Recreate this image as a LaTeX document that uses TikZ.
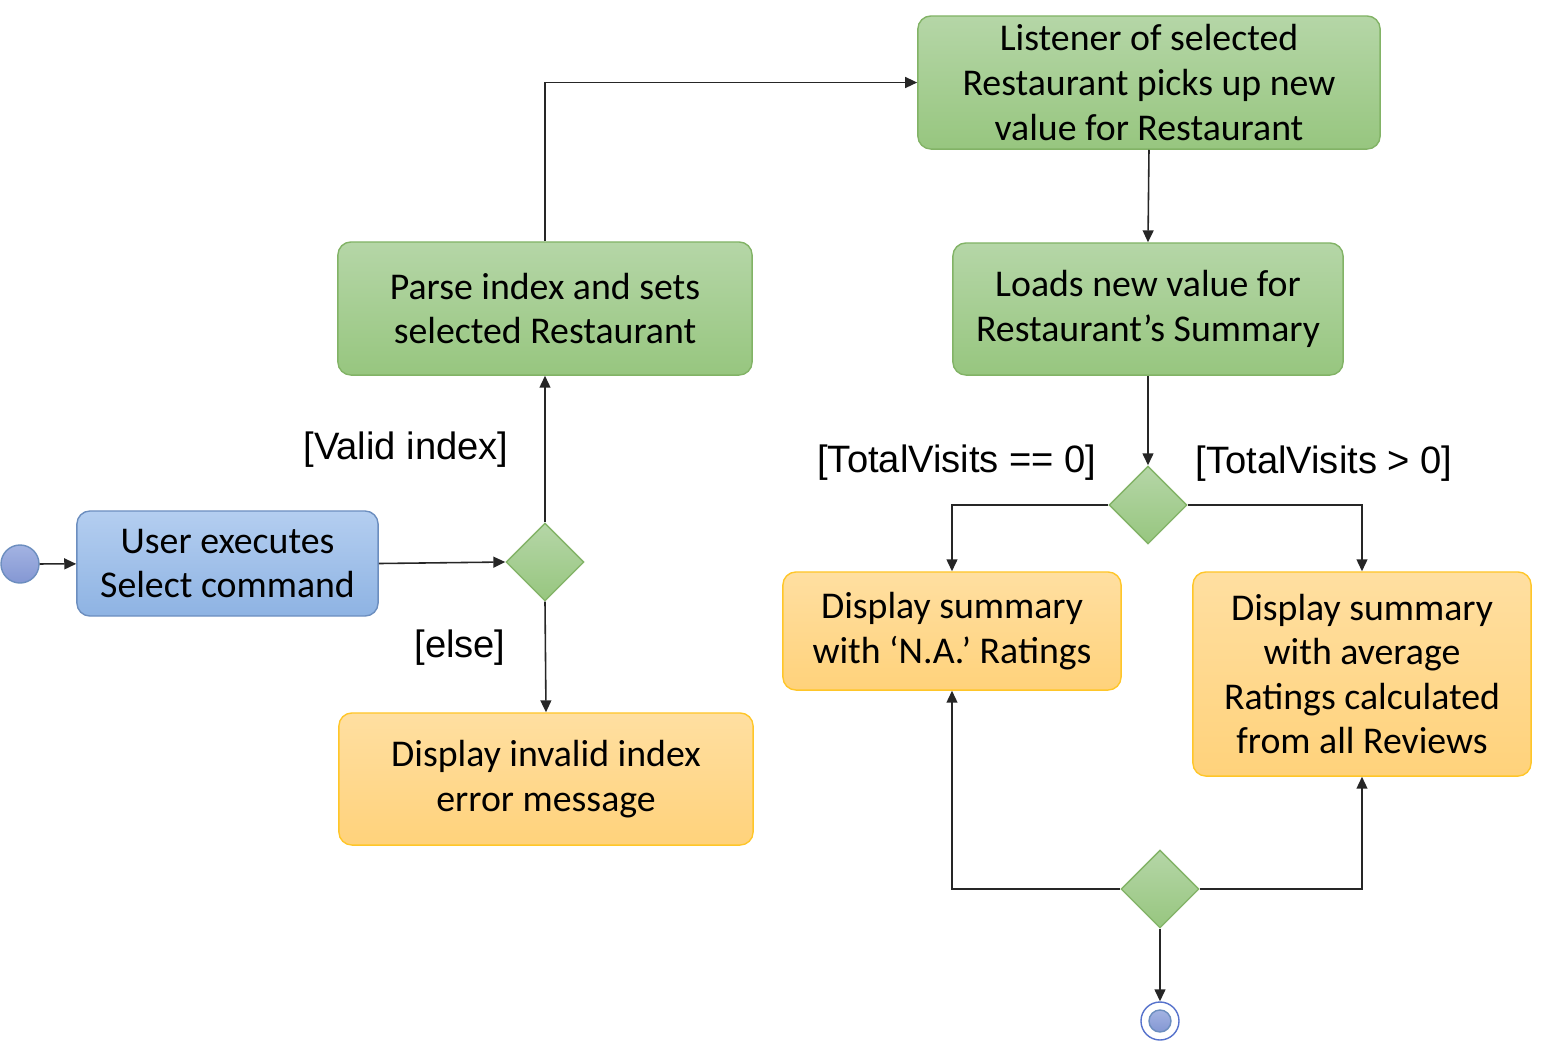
\documentclass[tikz,border=0pt]{standalone}
\usepackage{fontspec}
\setmainfont{Carlito}
\newfontfamily\arialfont{Liberation Sans}
\usepackage{tikz}
\usetikzlibrary{arrows.meta, shapes.geometric, positioning}

% Couleurs
\definecolor{vertHaut}{HTML}{B5D6A7}
\definecolor{vertBas}{HTML}{97C67F}
\definecolor{vertBord}{HTML}{82B366}
\definecolor{bleuHaut}{HTML}{B4CEF0}
\definecolor{bleuBas}{HTML}{8EB3E3}
\definecolor{bleuBord}{HTML}{6C8EBF}
\definecolor{orangeHaut}{HTML}{FFDFA1}
\definecolor{orangeBas}{HTML}{FFD27B}
\definecolor{orangeBord}{HTML}{FFC629}
\definecolor{cercleHaut}{HTML}{A3B3E2}
\definecolor{cercleBas}{HTML}{8497D3}

\tikzset{
    boite/.style={rectangle, rounded corners=3.7pt, align=center, inner sep=0pt,
        font=\fontsize{10.75}{12.7}\selectfont},
    boiteVerte/.style={boite, draw=vertBord, top color=vertHaut, bottom color=vertBas},
    boiteBleue/.style={boite, draw=bleuBord, top color=bleuHaut, bottom color=bleuBas},
    boiteOrange/.style={boite, draw=orangeBord, top color=orangeHaut, bottom color=orangeBas},
    losange/.style={diamond, draw=vertBord, top color=vertHaut, bottom color=vertBas,
        minimum width=0.78cm, minimum height=0.78cm, inner sep=0pt},
    garde/.style={font=\arialfont\fontsize{10.85}{12.8}\selectfont},
    fleche/.style={draw=black!85, line width=0.45pt, -{Triangle[length=3.4pt, width=3.1pt]}}
}

\begin{document}
\begin{tikzpicture}[x=0.01cm, y=-0.01cm]
    % Cadre
    \useasboundingbox (0,0) rectangle (1556,1041);

    % Noeuds initial et final
    \node[circle, draw=bleuBord, top color=cercleHaut, bottom color=cercleBas,
        minimum size=0.38cm, inner sep=0pt] (debut) at (20,564) {};
    \node[circle, draw=bleuBord!80!blue, fill=white, minimum size=0.38cm, inner sep=0pt] (fin) at (1160,1021) {};
    \node[circle, draw=bleuBord, top color=cercleHaut, bottom color=cercleBas,
        minimum size=0.22cm, inner sep=0pt] (finInterne) at (fin.center) {};

    % Actions
    \node[boiteBleue, minimum width=3.01cm, minimum height=1.05cm] (commande) at (227.5,563.5)
        {User executes\\Select command};
    \node[boiteVerte, minimum width=4.14cm, minimum height=1.33cm] (analyse) at (545,308.5)
        {Parse index and sets\\selected Restaurant};
    \node[boiteOrange, minimum width=4.14cm, minimum height=1.32cm] (invalide) at (546,779)
        {Display invalid index\\error message};
    \node[boiteVerte, minimum width=4.62cm, minimum height=1.33cm] (ecouteur) at (1149,82.5)
        {Listener of selected\\Restaurant picks up new\\value for Restaurant};
    \node[boiteVerte, minimum width=3.90cm, minimum height=1.32cm] (chargement) at (1148,309)
        {Loads new value for\\Restaurant’s Summary};
    \node[boiteOrange, minimum width=3.38cm, minimum height=1.18cm] (resumeNA) at (952,631)
        {Display summary\\with ‘N.A.’ Ratings};
    \node[boiteOrange, minimum width=3.38cm, minimum height=2.04cm] (resumeMoyen) at (1362,674)
        {Display summary\\with average\\Ratings calculated\\from all Reviews};

    % Decisions
    \node[losange] (choixIndex) at (545,562) {};
    \node[losange] (choixVisites) at (1148,505) {};
    \node[losange] (fusion) at (1160,889) {};

    % Gardes
    \node[garde] (gardeValide) at (406,450) {[Valid index]};
    \node[garde] (gardeSinon) at (460,648) {[else]};
    \node[garde] (gardeZero) at (957,463) {[TotalVisits == 0]};
    \node[garde] (gardePositif) at (1324,464) {[TotalVisits > 0]};

    % Transitions
    \draw[fleche] (debut) -- (commande);
    \draw[fleche] (commande.east) -- (choixIndex.west);
    \draw[fleche] (choixIndex.north) -- (analyse.south);
    \draw[fleche] (choixIndex.south) -- (invalide.north);
    \draw[fleche] (analyse.north) |- (ecouteur.west);
    \draw[fleche] (ecouteur.south) -- (chargement.north);
    \draw[fleche] (chargement.south) -- (choixVisites.north);
    \draw[fleche] (choixVisites.west) -| (resumeNA.north);
    \draw[fleche] (choixVisites.east) -| (resumeMoyen.north);
    \draw[fleche] (fusion.west) -| (resumeNA.south);
    \draw[fleche] (fusion.east) -| (resumeMoyen.south);
    \draw[fleche] (fusion.south) -- (fin.north);
\end{tikzpicture}
\end{document}
